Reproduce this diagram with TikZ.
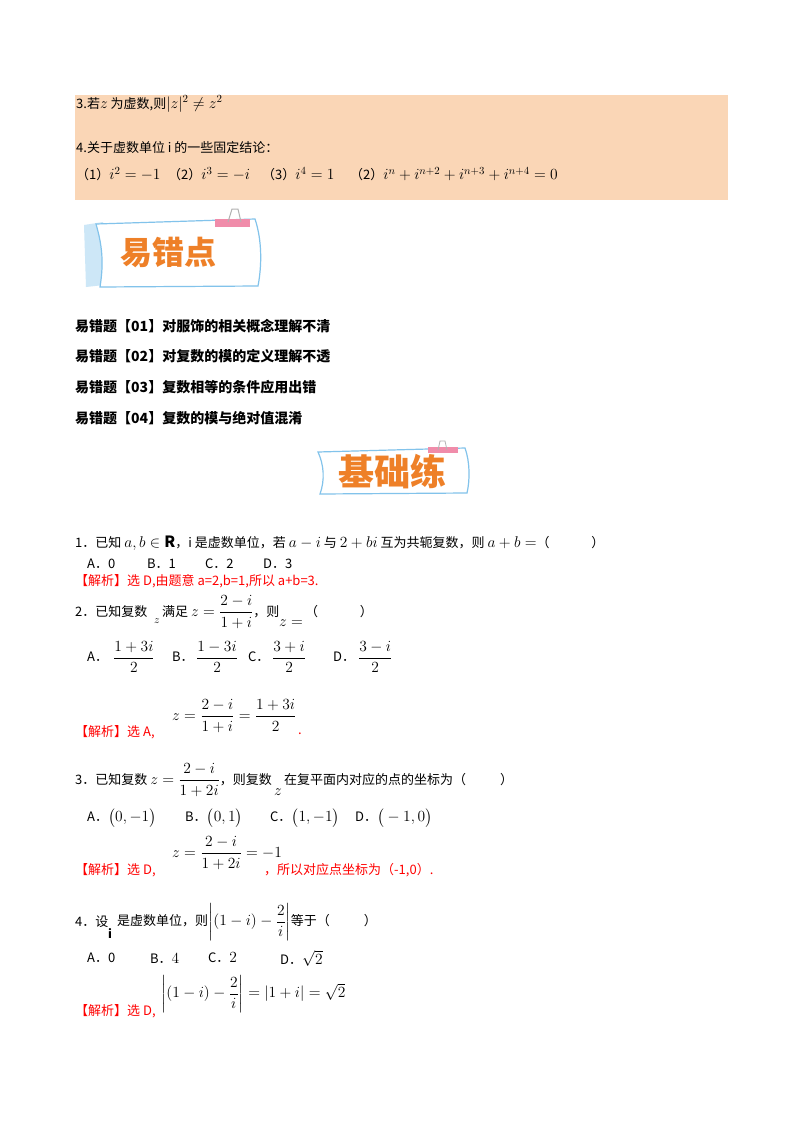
\RequirePackage{fix-cm}
\documentclass[tikz,border=0pt]{standalone}
\usepackage{amsmath,amssymb}
\usepackage{fontspec}
\setmainfont{Noto Sans CJK SC}
\newcommand\mm[1]{{\fontsize{15.5}{17}\selectfont$#1$}}
\definecolor{peach}{RGB}{250,214,182}
\definecolor{ban}{RGB}{238,128,40}
\definecolor{bblue}{RGB}{130,195,235}
\definecolor{pinkc}{RGB}{240,140,170}
\begin{document}
\begin{tikzpicture}[x=1pt,y=-1pt,
  t/.style={anchor=west,inner sep=0pt,font=\fontsize{13}{15}\selectfont},
  bt/.style={anchor=west,inner sep=0pt,font=\fontsize{14}{16}\selectfont\bfseries},
  rt/.style={t,text=red},
  bantxt/.style={font=\fontsize{32}{34}\selectfont\bfseries,text=ban,inner sep=0pt}]
\useasboundingbox (0,0) rectangle (800,1132);
\fill[white] (0,0) rectangle (800,1132);
% peach box
\fill[peach] (75,95) rectangle (728,200);
\node[t] (a3) at (76,104) {3.若\mm{z} 为虚数,则\mm{|z|^2\neq z^2}};
\node[t] (a4) at (76,148) {4.关于虚数单位 i 的一些固定结论：};
\node[t] (c1) at (76,174) {（1）\mm{i^2=-1}};
\node[t] (c2) at (168,174) {（2）\mm{i^3=-i}};
\node[t] (c3) at (262,174) {（3）\mm{i^4=1}};
\node[t] (c4) at (350,174) {（2）\mm{i^n+i^{n+2}+i^{n+3}+i^{n+4}=0}};
% banner 1
\fill[bblue!40] (84,225) -- (103,222) -- (104,285) -- (86,287) -- cycle;
\draw[bblue,line width=1.2pt,fill=white] (96,224) -- (255,219) .. controls (262,240) and (262,265) .. (258,286) -- (100,287) .. controls (104,262) and (102,245) .. (96,224) -- cycle;
\fill[pinkc] (215,219) rectangle (250,227);
\draw[gray!60,line width=1pt] (228,222) -- (232,209) -- (238,209) -- (241,222);
\node[bantxt] (b1) at (168,252) {易错点};
% error lines
\node[bt] (e1) at (75,326) {易错题【01】对服饰的相关概念理解不清};
\node[bt] (e2) at (75,356) {易错题【02】对复数的模的定义理解不透};
\node[bt] (e3) at (75,387) {易错题【03】复数相等的条件应用出错};
\node[bt] (e4) at (75,418) {易错题【04】复数的模与绝对值混淆};
% banner 2
\draw[bblue,line width=1.2pt,fill=white] (318,452) -- (465,448) .. controls (470,462) and (470,480) .. (467,493) -- (320,494) .. controls (325,480) and (324,465) .. (318,452) -- cycle;
\fill[pinkc] (428,447) rectangle (458,453);
\draw[gray!60,line width=0.8pt] (438,450) -- (440,441) -- (445,441) -- (447,450);
\node[bantxt,font=\fontsize{36}{38}\selectfont\bfseries] (b2) at (392,472) {基础练};
% problem 1
\node[t] (p1) at (75,543) {1．已知 \mm{a,b\in\mathbf{R}}，i 是虚数单位，若 \mm{a-i} 与 \mm{2+bi} 互为共轭复数，则 \mm{a+b=}（\hspace{3.2em}）};
\node[t] (o11) at (87,564) {A．0};
\node[t] (o12) at (147,564) {B．1};
\node[t] (o13) at (205,564) {C．2};
\node[t] (o14) at (263,564) {D．3};
\node[rt] (s1) at (75,581) {【解析】选 D,由题意 a=2,b=1,所以 a+b=3.};
% problem 2
\node[t] (p2) at (75,612) {2．已知复数};
\node[t,font=\fontsize{11}{12}\selectfont] (p2z) at (154,621) {$z$};
\node[t] (p2b) at (162,612) {满足 \mm{z=\dfrac{2-i}{1+i}}，则};
\node[t] (p2c) at (279,623) {\mm{z=}};
\node[t] (p2d) at (305,612) {（\hspace{3.2em}）};
\node[t] (o21) at (87,657) {A．};
\node[t] (o21f) at (113,657) {\mm{\dfrac{1+3i}{2}}};
\node[t] (o22) at (172,657) {B．};
\node[t] (o22f) at (196,657) {\mm{\dfrac{1-3i}{2}}};
\node[t] (o23) at (248,657) {C．};
\node[t] (o23f) at (272,657) {\mm{\dfrac{3+i}{2}}};
\node[t] (o24) at (333,657) {D．};
\node[t] (o24f) at (358,657) {\mm{\dfrac{3-i}{2}}};
\node[rt] (s2) at (75,732) {【解析】选 A,};
\node[t] (s2f) at (172,716) {\mm{z=\dfrac{2-i}{1+i}=\dfrac{1+3i}{2}}};
\node[rt] (s2d) at (298,734) {.};
% problem 3
\node[t] (p3) at (75,780) {3．已知复数 \mm{z=\dfrac{2-i}{1+2i}}，则复数};
\node[t] (p3z) at (274,792) {\mm{z}};
\node[t] (p3b) at (284,780) {在复平面内对应的点的坐标为（\hspace{2.6em}）};
\node[t] (o31) at (87,818) {A．\mm{\big(0,-1\big)}};
\node[t] (o32) at (185,818) {B．\mm{\big(0,1\big)}};
\node[t] (o33) at (270,818) {C．\mm{\big(1,-1\big)}};
\node[t] (o34) at (355,818) {D．\mm{\big(-1,0\big)}};
\node[rt] (s3) at (75,870) {【解析】选 D,};
\node[t] (s3f) at (172,853) {\mm{z=\dfrac{2-i}{1+2i}=-1}};
\node[rt] (s3b) at (264,870) {，所以对应点坐标为（-1,0）.};
% problem 4
\node[t] (p4) at (75,922) {4．设};
\node[t,font=\fontsize{12}{14}\selectfont\bfseries] (p4i) at (108,934) {i};
\node[t] (p4b) at (117,922) {是虚数单位，则\mm{\left|(1-i)-\dfrac{2}{i}\right|}等于（\hspace{2.6em}）};
\node[t] (o41) at (87,958) {A．0};
\node[t] (o42) at (150,958) {B．\mm{4}};
\node[t] (o43) at (208,958) {C．\mm{2}};
\node[t] (o44) at (280,958) {D．\mm{\sqrt2}};
\node[rt] (s4) at (75,1011) {【解析】选 D,};
\node[t] (s4f) at (161,994) {\mm{\left|(1-i)-\dfrac{2}{i}\right|=\left|1+i\right|=\sqrt2}};
\end{tikzpicture}
\end{document}
